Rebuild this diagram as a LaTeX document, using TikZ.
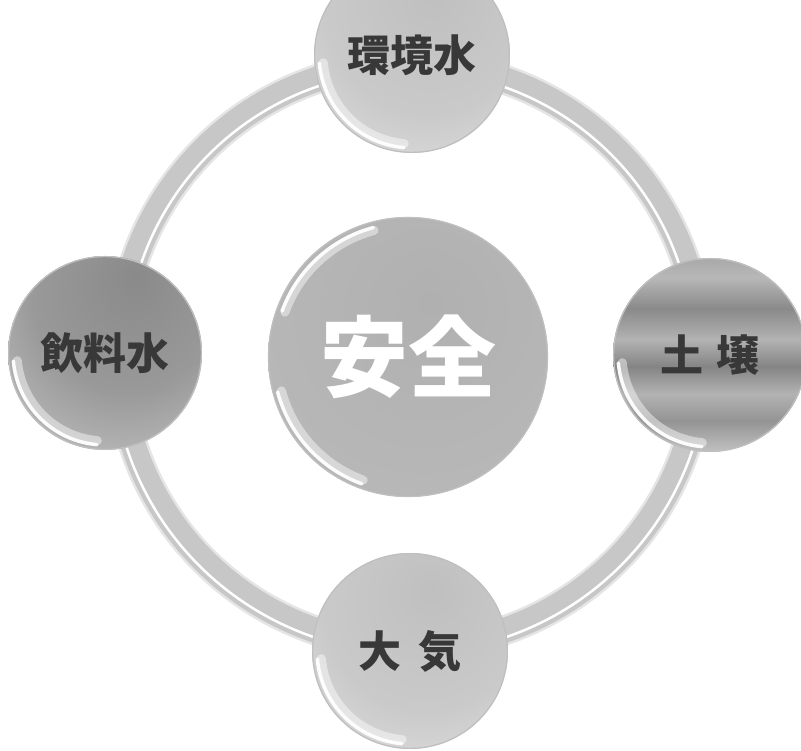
\documentclass[tikz,border=0pt]{standalone}
\usepackage{fontspec}
\newfontfamily\jp{Noto Sans CJK JP}
\pgfdeclareradialshading{ballLight}{\pgfpoint{6bp}{16bp}}{color(0bp)=(black!25); color(26bp)=(black!21); color(46bp)=(black!11); color(58bp)=(black!4); color(80bp)=(white)}
\pgfdeclareradialshading{ballDark}{\pgfpoint{8bp}{20bp}}{color(0bp)=(black!46); color(24bp)=(black!40); color(46bp)=(black!22); color(60bp)=(black!8); color(80bp)=(white)}
\pgfdeclareradialshading{ballMid}{\pgfpoint{4bp}{10bp}}{color(0bp)=(black!31); color(32bp)=(black!28); color(50bp)=(black!18); color(60bp)=(black!9); color(80bp)=(white)}
\pgfdeclareverticalshading{ballStreak}{100bp}{color(0bp)=(black!10); color(14bp)=(black!28); color(24bp)=(black!22); color(33bp)=(black!42); color(40bp)=(black!30); color(47bp)=(black!48); color(54bp)=(black!30); color(62bp)=(black!46); color(70bp)=(black!28); color(80bp)=(black!40); color(90bp)=(black!22); color(100bp)=(black!12)}
\tikzset{
  ball/.style={circle, inner sep=0pt, text=black!78, font=\jp\bfseries\fontsize{43}{43}\selectfont},
  glow/.style={white, line width=9, opacity=.45, line cap=round},
  rim/.style={white, line width=3.5, opacity=.95, line cap=round},
  edge/.style={black!25, line width=1.2},
}
\begin{document}
\begin{tikzpicture}[x=1pt,y=1pt]
\useasboundingbox (0,0) rectangle (801,751);
\clip (0,0) rectangle (801,751);
% ring
\coordinate (rc) at (410,396);
\draw[line width=30, black!10] (rc) circle (291);
\draw[line width=25, black!22] (rc) circle (291);
\draw[line width=2.5, white] ([shift={(8:284)}]rc) arc (8:172:284);
\draw[line width=2.5, white] ([shift={(188:298)}]rc) arc (188:352:298);
% center
\node[ball, shading=ballMid, minimum size=280, text=white, font=\jp\bfseries\fontsize{88}{88}\selectfont] (safe) at (408,394) {安全};
\draw[edge] (safe.center) circle (139.5);
\draw[glow] ([shift={(105:131)}]safe.center) arc (105:160:131);
\draw[rim] ([shift={(105:134)}]safe.center) arc (105:160:134);
\draw[glow] ([shift={(195:131)}]safe.center) arc (195:250:131);
\draw[rim] ([shift={(195:135)}]safe.center) arc (195:250:135);
% outer balls
\node[ball, shading=ballLight, minimum size=196] (water) at (412,696) {環境水};
\node[ball, shading=ballStreak, minimum size=194] (soil) at (710,396) {土\hspace{14pt}壌};
\node[ball, shading=ballLight, minimum size=196] (air) at (410,100) {大\hspace{18pt}気};
\node[ball, shading=ballDark, minimum size=194] (drink) at (105,398) {飲料水};
\foreach \n/\r in {water/98,soil/97,air/98,drink/97}{
  \draw[edge] (\n.center) circle (\r-0.6);
  \draw[glow] ([shift={(185:\r-9)}]\n.center) arc (185:265:\r-9);
  \draw[rim] ([shift={(185:\r-5)}]\n.center) arc (185:265:\r-5);
}
\end{tikzpicture}
\end{document}
